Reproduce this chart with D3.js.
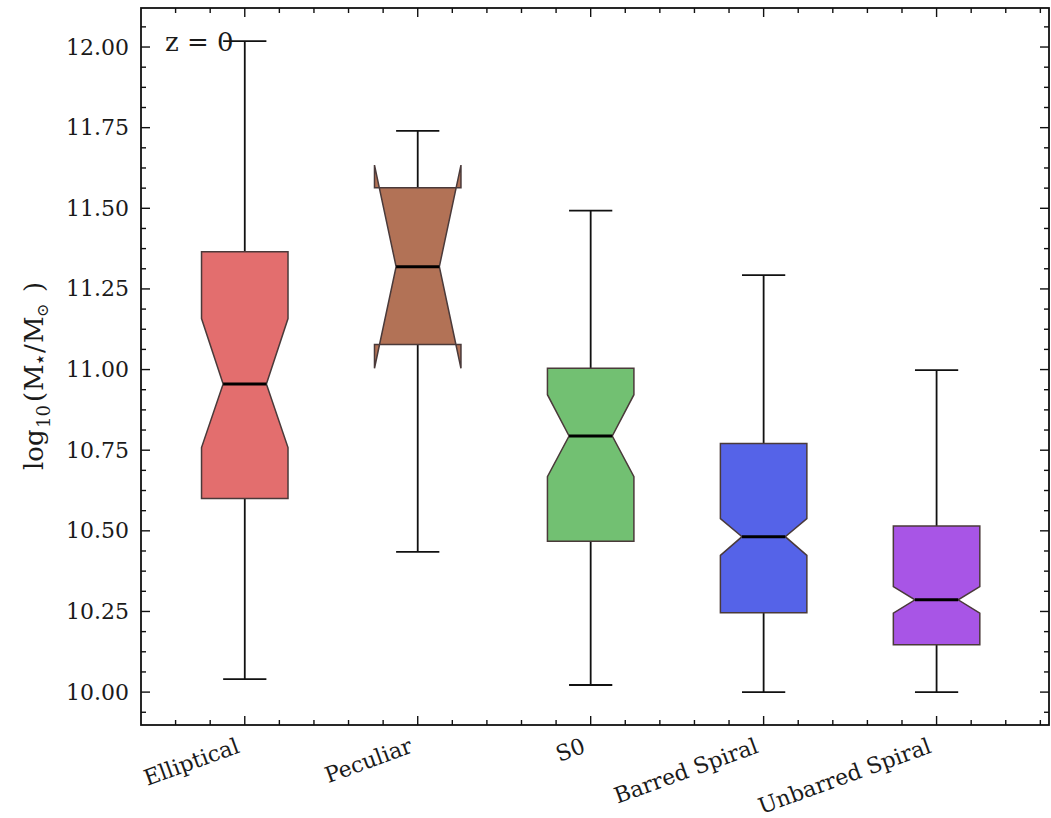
<!DOCTYPE html>
<html>
<head>
<meta charset="utf-8">
<script src="https://cdn.jsdelivr.net/npm/d3@7"></script>
<style>
  html, body { margin: 0; padding: 0; background: #ffffff; }
  svg { display: block; }
  text { font-family: "DejaVu Serif", serif; fill: #1a1a1a; }
</style>
</head>
<body>
<svg id="chart" width="1051" height="818"></svg>
<script>
// Stellar mass distribution per morphological class (notched box plot)
const categories  = ["Elliptical", "Peculiar", "S0", "Barred Spiral", "Unbarred Spiral"];
const whiskerLow  = [10.040, 10.435, 10.022, 10.000, 10.000];
const q1          = [10.600, 11.078, 10.468, 10.246, 10.147];
const median      = [10.955, 11.319, 10.794, 10.482, 10.286];
const q3          = [11.365, 11.564, 11.004, 10.771, 10.515];
const whiskerHigh = [12.018, 11.740, 11.493, 11.293, 10.998];
const notchLow    = [10.758, 11.004, 10.668, 10.424, 10.245];
const notchHigh   = [11.158, 11.634, 10.922, 10.538, 10.327];
const boxColors   = ["#e36e6e", "#b27256", "#72c072", "#5563e8", "#a855e6"];
const yTickValues = [10.00, 10.25, 10.50, 10.75, 11.00, 11.25, 11.50, 11.75, 12.00];
const panelLabel  = "z = 0";

const svg = d3.select("#chart");
const plot = { left: 141, top: 8, right: 1049, bottom: 725 };

const x = d3.scaleLinear().domain([0.4, 5.65]).range([plot.left, plot.right]);
const y = d3.scaleLinear().domain([9.898, 12.121]).range([plot.bottom, plot.top]);

const boxWidth = 0.5;
const data = categories.map((c, i) => ({
  name: c, pos: i + 1,
  lo: whiskerLow[i], q1: q1[i], med: median[i], q3: q3[i], hi: whiskerHigh[i],
  nlo: notchLow[i], nhi: notchHigh[i], color: boxColors[i]
}));

const g = svg.append("g");

// whiskers and caps
data.forEach(d => {
  const capHalf = boxWidth / 4;
  g.append("line").attr("x1", x(d.pos)).attr("x2", x(d.pos))
    .attr("y1", y(d.q3)).attr("y2", y(d.hi))
    .attr("stroke", "#111").attr("stroke-width", 1.8);
  g.append("line").attr("x1", x(d.pos)).attr("x2", x(d.pos))
    .attr("y1", y(d.q1)).attr("y2", y(d.lo))
    .attr("stroke", "#111").attr("stroke-width", 1.8);
  [d.hi, d.lo].forEach(v => {
    g.append("line").attr("x1", x(d.pos - capHalf)).attr("x2", x(d.pos + capHalf))
      .attr("y1", y(v)).attr("y2", y(v))
      .attr("stroke", "#111").attr("stroke-width", 1.8);
  });
});

// notched boxes
data.forEach(d => {
  const l = d.pos - boxWidth / 2, r = d.pos + boxWidth / 2;
  const ml = d.pos - boxWidth / 4, mr = d.pos + boxWidth / 4;
  const pts = [
    [l, d.q1], [l, d.nlo], [ml, d.med], [l, d.nhi], [l, d.q3],
    [r, d.q3], [r, d.nhi], [mr, d.med], [r, d.nlo], [r, d.q1]
  ];
  const path = d3.line().x(p => x(p[0])).y(p => y(p[1]));
  g.append("path").attr("d", path(pts) + "Z")
    .attr("fill", d.color).attr("stroke", "#4a3a3a").attr("stroke-width", 1.5)
    .attr("stroke-linejoin", "miter");
  g.append("line").attr("x1", x(ml)).attr("x2", x(mr))
    .attr("y1", y(d.med)).attr("y2", y(d.med))
    .attr("stroke", "#000").attr("stroke-width", 3);
});

// axes: ticks pointing inward on all four sides
const majorLen = 9, minorLen = 5;
const axes = svg.append("g").attr("stroke", "#111").attr("stroke-width", 1.4);

const xMajor = categories.map((c, i) => i + 1);
const xMinor = d3.range(0.6, 5.66, 0.2).filter(v => !xMajor.some(m => Math.abs(m - v) < 1e-6));
const yMinor = d3.range(9.9375, 12.13, 0.0625).filter(v => !yTickValues.some(m => Math.abs(m - v) < 1e-6) && v > 9.9 && v < 12.12);

xMajor.forEach(v => {
  axes.append("line").attr("x1", x(v)).attr("x2", x(v)).attr("y1", plot.bottom).attr("y2", plot.bottom - majorLen);
  axes.append("line").attr("x1", x(v)).attr("x2", x(v)).attr("y1", plot.top).attr("y2", plot.top + majorLen);
});
xMinor.forEach(v => {
  axes.append("line").attr("x1", x(v)).attr("x2", x(v)).attr("y1", plot.bottom).attr("y2", plot.bottom - minorLen);
  axes.append("line").attr("x1", x(v)).attr("x2", x(v)).attr("y1", plot.top).attr("y2", plot.top + minorLen);
});
yTickValues.forEach(v => {
  axes.append("line").attr("y1", y(v)).attr("y2", y(v)).attr("x1", plot.left).attr("x2", plot.left + majorLen);
  axes.append("line").attr("y1", y(v)).attr("y2", y(v)).attr("x1", plot.right).attr("x2", plot.right - majorLen);
});
yMinor.forEach(v => {
  axes.append("line").attr("y1", y(v)).attr("y2", y(v)).attr("x1", plot.left).attr("x2", plot.left + minorLen);
  axes.append("line").attr("y1", y(v)).attr("y2", y(v)).attr("x1", plot.right).attr("x2", plot.right - minorLen);
});

svg.append("rect")
  .attr("x", plot.left).attr("y", plot.top)
  .attr("width", plot.right - plot.left).attr("height", plot.bottom - plot.top)
  .attr("fill", "none").attr("stroke", "#111").attr("stroke-width", 1.8);

// y tick labels
svg.append("g").selectAll("text").data(yTickValues).join("text")
  .attr("x", 129).attr("y", d => y(d))
  .attr("text-anchor", "end").attr("dominant-baseline", "central")
  .attr("font-size", 22)
  .text(d => d.toFixed(2));

// x tick labels, rotated
svg.append("g").selectAll("text").data(data).join("text")
  .attr("transform", d => `translate(${x(d.pos) - 4},752) rotate(-20)`)
  .attr("text-anchor", "end")
  .attr("font-size", 22)
  .text(d => d.name);

// y axis title: log10(M_star / M_sun), pieces laid out along the rotated baseline
const titleParts = [
  { t: "log", s: 0,   size: 26, dy: 0 },
  { t: "10",  s: 42,  size: 18, dy: 7 },
  { t: "(",   s: 68,  size: 26, dy: 0 },
  { t: "M",   s: 79,  size: 26, dy: 0 },
  { t: "⋆",   s: 104, size: 21, dy: 4 },
  { t: "/",   s: 117, size: 26, dy: 0 },
  { t: "M",   s: 127, size: 26, dy: 0 },
  { t: "⊙",   s: 153, size: 16, dy: 5 },
  { t: ")",   s: 178, size: 26, dy: 0 }
];
const yt = svg.append("g").attr("transform", "translate(43,470) rotate(-90)");
yt.selectAll("text").data(titleParts).join("text")
  .attr("x", d => d.s).attr("y", d => d.dy)
  .attr("font-size", d => d.size)
  .text(d => d.t);

// panel label
svg.append("text").attr("x", 165).attr("y", 51)
  .attr("font-size", 26)
  .text(panelLabel);
</script>
</body>
</html>
